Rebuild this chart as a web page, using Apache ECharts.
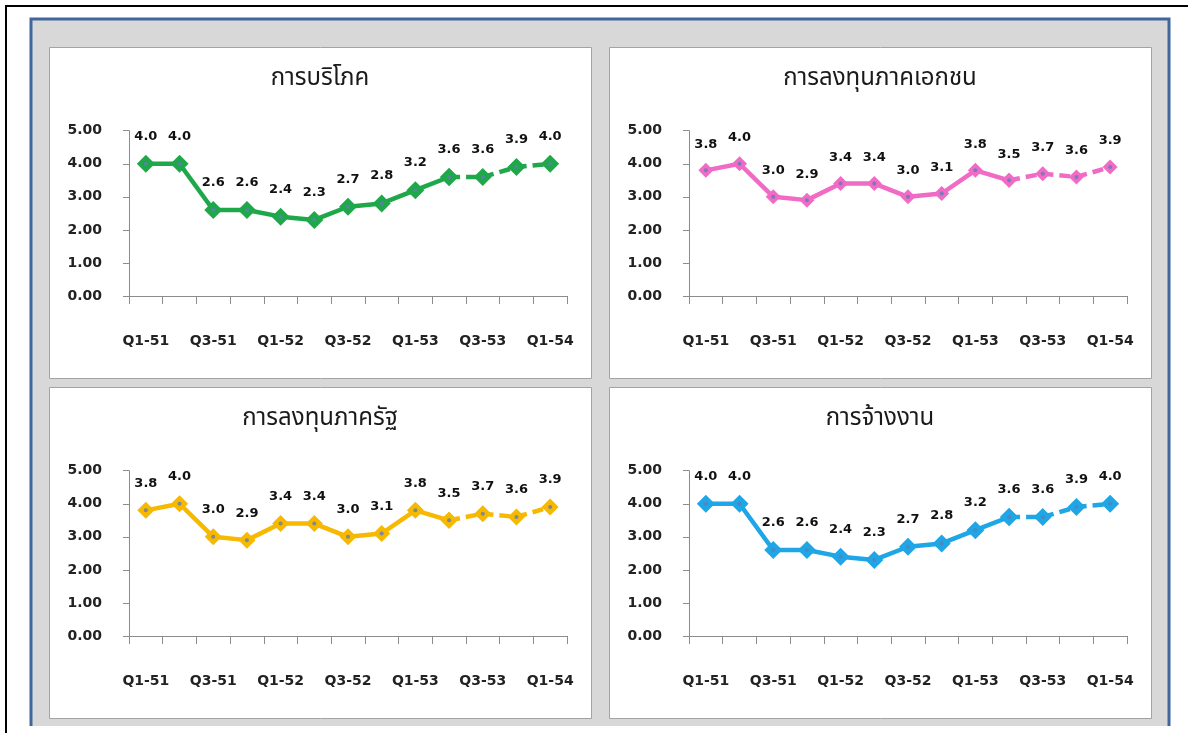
<!DOCTYPE html>
<html>
<head>
<meta charset="utf-8">
<script src="https://cdn.jsdelivr.net/npm/echarts@6/dist/echarts.min.js"></script>
<style>
html,body{margin:0;padding:0;background:#fff;}
#c{width:1188px;height:733px;}
</style>
</head>
<body>
<div id="c"></div>
<script>
const categories = ['Q1-51','Q2-51','Q3-51','Q4-51','Q1-52','Q2-52','Q3-52','Q4-52','Q1-53','Q2-53','Q3-53','Q4-53','Q1-54'];
const consumption = [4.0,4.0,2.6,2.6,2.4,2.3,2.7,2.8,3.2,3.6,3.6,3.9,4.0];
const privateInvestment = [3.8,4.0,3.0,2.9,3.4,3.4,3.0,3.1,3.8,3.5,3.7,3.6,3.9];
const publicInvestment = [3.8,4.0,3.0,2.9,3.4,3.4,3.0,3.1,3.8,3.5,3.7,3.6,3.9];
const employment = [4.0,4.0,2.6,2.6,2.4,2.3,2.7,2.8,3.2,3.6,3.6,3.9,4.0];
const titles = ['การบริโภค','การลงทุนภาคเอกชน','การลงทุนภาครัฐ','การจ้างงาน'];
const yTicks = [0,1,2,3,4,5];
const forecastStart = 9;

const panels = [
  {title: titles[0], data: consumption, color: '#1fa84a', sym: 18, px: 49, py: 47},
  {title: titles[1], data: privateInvestment, color: '#f06ac6', sym: 15, px: 609, py: 47},
  {title: titles[2], data: publicInvestment, color: '#f7b800', sym: 17, px: 49, py: 387},
  {title: titles[3], data: employment, color: '#1ea6e6', sym: 18, px: 609, py: 387}
];
const PW = 542, PH = 331;
const numFont = '"DejaVu Sans", Arial, sans-serif';
const thaiFont = '"Noto Sans Thai", "Noto Sans Thai UI", Loma, Garuda, "Tlwg Typo", "DejaVu Sans", sans-serif';

const chart = echarts.init(document.getElementById('c'), null, {renderer: 'canvas'});

const graphic = [
  {type:'rect', z:-10, shape:{x:6,y:6,width:1400,height:900}, style:{fill:'#ffffff', stroke:'#000', lineWidth:2}},
  {type:'rect', z:-9, shape:{x:31,y:19,width:1138,height:707}, style:{fill:'#d8d8d8'}},
  {type:'polyline', z:-8, shape:{points:[[31,726],[31,19],[1169,19],[1169,726]]}, style:{stroke:'#41669e', lineWidth:3, fill:null}}
];
panels.forEach(p => {
  graphic.push({type:'rect', z:-7, shape:{x:p.px+0.5,y:p.py+0.5,width:PW,height:PH}, style:{fill:'#fff', stroke:'#a3a3a3', lineWidth:1}});
});

const title = [], grid = [], xAxis = [], yAxis = [], series = [];
panels.forEach((p, i) => {
  title.push({text: p.title, left: p.px + PW/2, top: p.py + 21, textAlign: 'center', padding: 0,
    textStyle: {fontSize: 24, fontWeight: 'normal', color: '#1a1a1a', fontFamily: thaiFont}});
  grid.push({left: p.px + 80, top: p.py + 83.7, width: 438, height: 165.3, containLabel: false});
  xAxis.push({type:'category', gridIndex:i, data: categories, boundaryGap: true,
    axisLine:{lineStyle:{color:'#8c8c8c', width:1}},
    axisTick:{show:true, interval:0, length:8, lineStyle:{color:'#8c8c8c'}},
    axisLabel:{interval:1, margin:38, fontSize:14, fontWeight:'bold', color:'#222', fontFamily:numFont},
    splitLine:{show:false}});
  yAxis.push({type:'value', gridIndex:i, min:yTicks[0], max:yTicks[yTicks.length-1], interval:1,
    axisLine:{show:true, lineStyle:{color:'#8c8c8c', width:1}},
    axisTick:{show:true, length:6, lineStyle:{color:'#8c8c8c'}},
    axisLabel:{margin:27, fontSize:14, fontWeight:'bold', color:'#222', fontFamily:numFont, formatter: v => v.toFixed(2)},
    splitLine:{show:false}});
  const labelCfg = {show:true, position:'top', distance:12, fontSize:13, fontWeight:'bold', color:'#111', fontFamily:numFont};
  series.push({type:'line', xAxisIndex:i, yAxisIndex:i, name: p.title,
    data: p.data.map((v,k) => k <= forecastStart ? v : null),
    symbol:'diamond', symbolSize:p.sym, showAllSymbol:true,
    lineStyle:{color:p.color, width:4.5}, itemStyle:{color:p.color},
    label: Object.assign({}, labelCfg, {formatter: q => q.value == null ? '' : Number(q.value).toFixed(1)}),
    z:3, animation:false});
  series.push({type:'line', xAxisIndex:i, yAxisIndex:i, name: p.title + ' (f)',
    data: p.data.map((v,k) => k >= forecastStart ? v : null),
    symbol:'diamond', symbolSize:p.sym, showAllSymbol:true,
    lineStyle:{color:p.color, width:4.5, type:[11,6]}, itemStyle:{color:p.color},
    label: Object.assign({}, labelCfg, {formatter: q => (q.value == null || q.dataIndex === forecastStart) ? '' : Number(q.value).toFixed(1)}),
    z:3, animation:false});
  series.push({type:'scatter', xAxisIndex:i, yAxisIndex:i, silent:true,
    data: p.data, symbol:'circle', symbolSize:4, itemStyle:{color:'#5b7fb5'}, z:5, animation:false});
});

chart.setOption({animation:false, backgroundColor:'#fff', graphic, title, grid, xAxis, yAxis, series});
</script>
</body>
</html>
